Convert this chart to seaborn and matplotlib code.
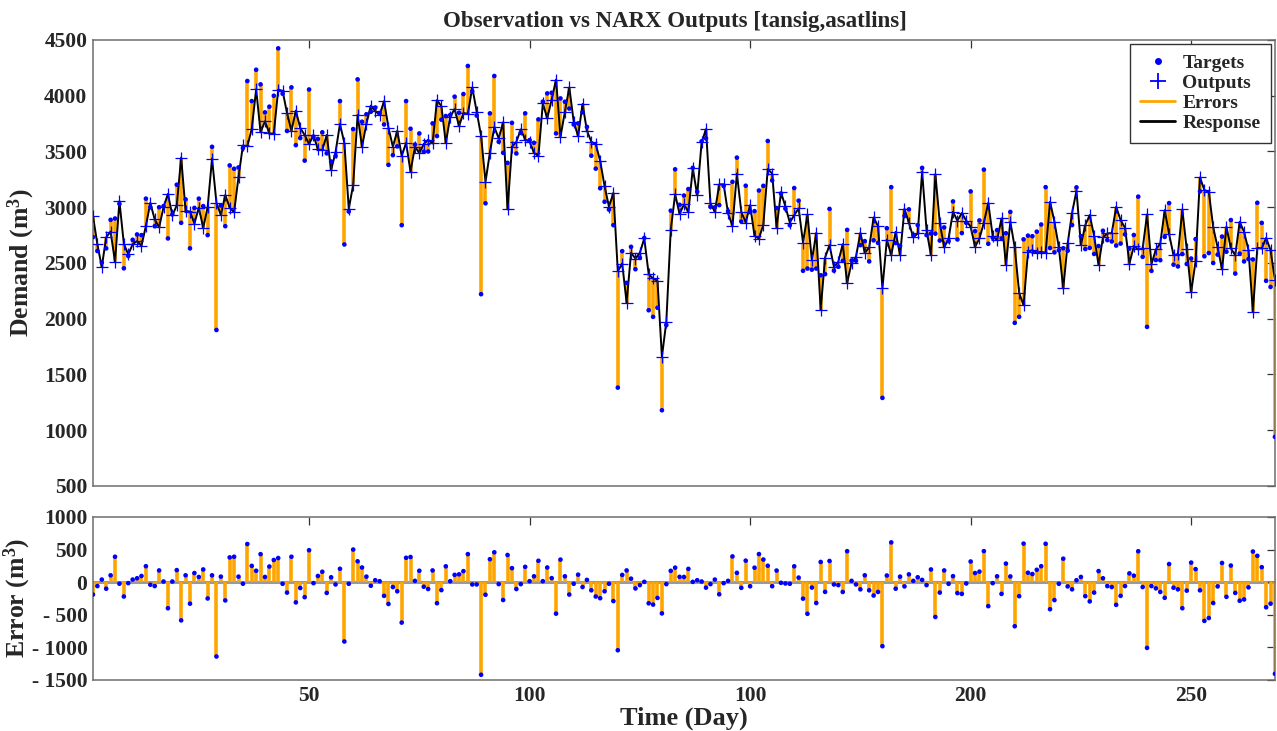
import numpy as np
import pandas as pd
import matplotlib
matplotlib.use("Agg")
import matplotlib.pyplot as plt
from matplotlib.lines import Line2D
import seaborn as sns

days = np.arange(1, 270)

targets = [
    2732, 2607, 2504, 2631, 2887, 2899, 3030, 2452, 2562, 2708,
    2756, 2750, 3077, 3000, 2830, 3000, 3010, 2720, 2936, 3202,
    2860, 3071, 2631, 2994, 3077, 3010, 2750, 3542, 1899, 3015,
    2830, 3375, 3345, 3357, 3530, 4132, 3952, 4233, 4102, 3851,
    3902, 4000, 4425, 4018, 3684, 4075, 3557, 3620, 3418, 4056,
    3632, 3613, 3672, 3483, 3410, 3458, 3952, 2666, 2961, 3701,
    4147, 3767, 3834, 3856, 3893, 3842, 3742, 3380, 3467, 3546,
    2839, 3952, 3704, 3562, 3662, 3497, 3500, 3752, 3638, 3785,
    3818, 3827, 3992, 3848, 4015, 4267, 4040, 3822, 2220, 3035,
    3842, 4177, 3587, 3488, 3398, 3757, 3482, 3668, 3842, 3602,
    3578, 3788, 3947, 4021, 4027, 3662, 3976, 3946, 3885, 3742,
    3752, 3851, 3721, 3462, 3346, 3170, 3049, 2979, 2839, 1382,
    2606, 2322, 2645, 2444, 2546, 2725, 2076, 2017, 2098, 1179,
    1943, 2969, 3340, 3022, 3105, 3163, 3353, 3139, 3591, 3617,
    3004, 2999, 3019, 3190, 2964, 3228, 3445, 2872, 3193, 2956,
    2965, 3150, 3192, 3594, 3240, 2993, 3123, 2987, 2838, 3172,
    3059, 2430, 2450, 2440, 2450, 2390, 2400, 2985, 2431, 2466,
    2519, 2797, 2522, 2520, 2660, 2696, 2514, 2703, 2680, 1290,
    2812, 3180, 2679, 2655, 2921, 2981, 2749, 2840, 3353, 2750,
    2765, 2763, 2701, 2819, 2695, 3052, 2711, 2768, 2860, 3142,
    2786, 2882, 3337, 2672, 2726, 2795, 2720, 2767, 2958, 1963,
    2017, 2712, 2745, 2740, 2781, 2845, 3180, 2634, 2595, 2614,
    2632, 2610, 2840, 3178, 2740, 2625, 2635, 2581, 2652, 2789,
    2705, 2693, 2656, 2674, 2756, 2630, 2751, 3095, 2555, 1927,
    2429, 2526, 2525, 2734, 3037, 2485, 2469, 2580, 2491, 2540,
    2714, 3142, 2560, 2589, 2500, 2575, 2737, 2601, 2885, 2405,
    2584, 2514, 2535, 2532, 3040, 2860, 2340, 2285, 940,
]

outputs = [
    2922, 2667, 2464, 2731, 2782, 2509, 3054, 2672, 2577, 2668,
    2696, 2655, 2832, 3039, 2890, 2820, 3000, 3120, 2926, 3017,
    3446, 2966, 2961, 2854, 2997, 2815, 3000, 3437, 3039, 2930,
    3110, 2995, 2955, 3272, 3554, 3547, 3702, 4058, 3672, 3771,
    3662, 3660, 4055, 4043, 3844, 3685, 3867, 3710, 3648, 3566,
    3647, 3518, 3512, 3648, 3335, 3493, 3747, 3576, 2986, 3201,
    3827, 3542, 3749, 3911, 3863, 3827, 3952, 3714, 3542, 3686,
    3459, 3578, 3318, 3542, 3487, 3567, 3605, 3572, 3961, 3907,
    3575, 3812, 3880, 3728, 3846, 3837, 4075, 3857, 3640, 3228,
    3490, 3719, 3617, 3762, 2981, 3542, 3587, 3698, 3607, 3587,
    3488, 3460, 3932, 3796, 3965, 4145, 3630, 3856, 4075, 3767,
    3637, 3926, 3686, 3587, 3566, 3416, 3189, 3004, 3129, 2426,
    2495, 2142, 2591, 2540, 2591, 2720, 2400, 2361, 2340, 1658,
    1973, 2795, 3117, 2940, 3025, 2959, 3348, 3109, 3581, 3701,
    3034, 2959, 3205, 3205, 2944, 2833, 3302, 2959, 2863, 3019,
    2743, 2719, 2845, 3342, 3302, 2815, 3133, 3007, 2863, 2929,
    2989, 2683, 2935, 2523, 2770, 2080, 2549, 2660, 2466, 2511,
    2669, 2322, 2502, 2555, 2770, 2591, 2639, 2908, 2830, 2272,
    2710, 2570, 2779, 2570, 2986, 2861, 2729, 2765, 3318, 2795,
    2570, 3297, 2861, 2639, 2720, 2960, 2879, 2948, 2880, 2825,
    2646, 2720, 2861, 3040, 2741, 2705, 2900, 2482, 2870, 2639,
    2232, 2121, 2600, 2615, 2591, 2600, 2591, 3049, 2870, 2639,
    2272, 2675, 2950, 3148, 2660, 2840, 2930, 2741, 2482, 2729,
    2765, 2768, 3004, 2884, 2816, 2495, 2651, 2621, 2630, 2935,
    2489, 2621, 2675, 2974, 2759, 2570, 2579, 2980, 2621, 2240,
    2514, 3267, 3154, 3139, 2820, 2640, 2442, 2826, 2630, 2570,
    2869, 2779, 2615, 2062, 2636, 2630, 2725, 2615, 2346,
]

top_yticks = [500, 1000, 1500, 2000, 2500, 3000, 3500, 4000, 4500]
err_yticks = [-1500, -1000, -500, 0, 500, 1000]
err_yticklabels = ["- 1500", "- 1000", "- 500", "0", "500", "1000"]
xticks = [50, 100, 150, 200, 250]
xticklabels = ["50", "100", "100", "200", "250"]

df = pd.DataFrame({"day": days, "target": targets, "output": outputs})
df["error"] = df["target"] - df["output"]

sns.set_theme(style="white")
plt.rcParams["font.family"] = ["Liberation Serif", "DejaVu Serif"]
plt.rcParams["font.weight"] = "bold"
plt.rcParams["axes.labelweight"] = "bold"
plt.rcParams["mathtext.fontset"] = "custom"
plt.rcParams["mathtext.rm"] = "Liberation Serif:bold"
plt.rcParams["mathtext.it"] = "Liberation Serif:bold"
plt.rcParams["mathtext.bf"] = "Liberation Serif:bold"

ORANGE = "#FFA500"
BLUE = "#0000FF"
FRAME = "#6E6E6E"

fig = plt.figure(figsize=(12.77, 7.31), dpi=100)
ax1 = fig.add_axes([0.0728, 0.3352, 0.9256, 0.6101])
ax2 = fig.add_axes([0.0728, 0.0698, 0.9256, 0.2230])

# ---- top panel ----
ax1.vlines(df["day"], df["output"], df["target"], color=ORANGE, lw=2.6, zorder=1)
sns.lineplot(data=df, x="day", y="output", color="black", lw=1.4, ax=ax1,
             zorder=2, legend=False)
sns.scatterplot(data=df, x="day", y="target", color=BLUE, s=11, marker="o",
                edgecolor="none", ax=ax1, zorder=4, legend=False)
sns.scatterplot(data=df, x="day", y="output", color=BLUE, s=75, marker="+",
                linewidth=0.9, ax=ax1, zorder=3, legend=False)

ax1.set_xlim(1, 269)
ax1.set_ylim(500, 4500)
ax1.set_yticks(top_yticks)
ax1.set_xticks(xticks)
ax1.set_xticklabels([])
ax1.set_xlabel("")
ax1.set_ylabel("Demand (m$^3$)", fontsize=18.5, fontweight="bold")
ax1.yaxis.set_label_coords(-0.047, 0.5)
title = ax1.set_title("Observation vs NARX Outputs [tansig,asatlins]",
                      fontsize=16.5, fontweight="bold", pad=9)
title.set_x(0.492)

handles = [
    Line2D([], [], color=BLUE, marker="o", linestyle="none", markersize=4),
    Line2D([], [], color=BLUE, marker="+", linestyle="none", markersize=12,
           markeredgewidth=1.3),
    Line2D([], [], color=ORANGE, lw=2),
    Line2D([], [], color="black", lw=2),
]
leg = ax1.legend(handles, ["Targets", "Outputs", "Errors", "Response"],
                 loc="upper right", fancybox=False, framealpha=1,
                 edgecolor="#333333", prop={"weight": "bold", "size": 14},
                 borderaxespad=0.2, handlelength=1.8, labelspacing=0.12,
                 borderpad=0.55, handletextpad=0.35)
leg.get_frame().set_linewidth(1.0)

# ---- bottom panel ----
ax2.axhline(0, color="#9A9A9A", lw=2.2, zorder=0)
ax2.vlines(df["day"], 0, df["error"], color=ORANGE, lw=2.6, zorder=1)
sns.scatterplot(data=df, x="day", y="error", color=BLUE, s=11, marker="o",
                edgecolor="none", ax=ax2, zorder=3, legend=False)
ax2.set_xlim(1, 269)
ax2.set_ylim(-1500, 1000)
ax2.set_yticks(err_yticks)
ax2.set_yticklabels(err_yticklabels)
ax2.set_xticks(xticks)
ax2.set_xticklabels(xticklabels)
ax2.set_xlabel("Time (Day)", fontsize=19, fontweight="bold", labelpad=1)
ax2.set_ylabel("Error (m$^3$)", fontsize=18.5, fontweight="bold")
ax2.yaxis.set_label_coords(-0.051, 0.5)

for ax in (ax1, ax2):
    ax.tick_params(direction="in", top=True, right=True, length=6, width=0.9,
                   color="#333333", labelsize=15.5, pad=4)
    for lbl in ax.get_xticklabels() + ax.get_yticklabels():
        lbl.set_fontweight("bold")
    for sp in ax.spines.values():
        sp.set_color(FRAME)
        sp.set_linewidth(1.1)
    ax.grid(False)

fig.savefig("out.png", dpi=100, facecolor="white")
